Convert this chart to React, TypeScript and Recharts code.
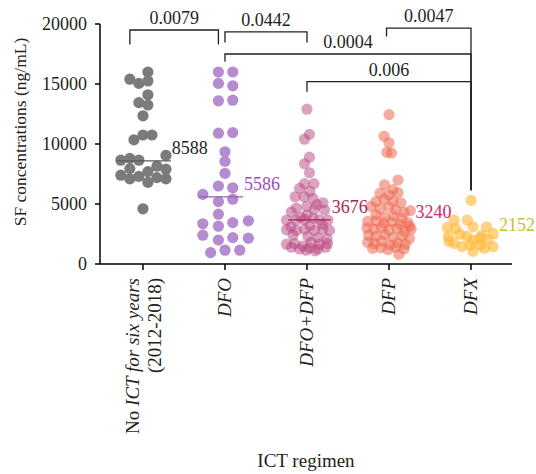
import React from 'react';
import { ScatterChart, Scatter, XAxis, YAxis } from 'recharts';

// ---------- data ----------
const categories = ['No ICT for six years (2012-2018)', 'DFO', 'DFO+DFP', 'DFP', 'DFX'];
const yTicks = [0, 5000, 10000, 15000, 20000];

const noIctValues = [16000, 15400, 15050, 15250, 14100, 13450, 13250, 12350, 10350, 10750, 10750, 9050, 8650, 8800, 8650, 7950, 8150, 7400, 7700, 7900, 7100, 7300, 6800, 7200, 7100, 4600];
const noIctJitter = [0.06, -0.16, -0.05, 0.06, 0.06, -0.05, 0.06, 0, -0.11, 0, 0.11, 0.28, -0.27, -0.16, -0.05, -0.16, 0.17, -0.27, 0.06, 0.28, -0.16, -0.05, 0.06, 0.17, 0.28, 0];

const dfoValues = [16000, 16000, 15050, 14850, 13600, 13650, 10900, 10950, 9350, 8550, 7550, 6500, 6350, 5800, 5200, 5400, 4150, 3350, 3150, 3450, 3600, 2400, 2000, 2200, 2150, 950, 1150, 1150];
const dfoJitter = [-0.08, 0.095, -0.08, 0.095, -0.08, 0.095, -0.08, 0.095, 0, 0, 0, -0.08, 0.095, -0.27, -0.08, 0.095, -0.08, -0.27, -0.08, 0.095, 0.285, -0.27, -0.08, 0.095, 0.285, -0.175, 0, 0.18];

const dfoDfpValues = [12900, 10800, 10400, 8900, 8350, 7600, 6700, 6700, 6300, 6050, 5600, 5600, 5450, 5100, 4950, 4650, 4800, 4550, 4500, 4350, 4100, 3900, 3700, 3650, 3650, 3700, 3800, 3650, 3300, 3100, 3200, 2850, 2800, 2900, 2800, 2900, 2800, 2400, 2300, 2200, 2100, 1650, 1700, 1500, 1800, 1650, 1700, 1400, 1250, 1350, 1250, 1400, 1150, 1100];
const dfoDfpJitter = [0, 0.03, -0.03, 0.03, -0.03, 0.03, -0.03, 0.085, -0.09, 0.035, -0.145, -0.035, 0.075, 0.195, 0.12, -0.13, -0.005, 0.09, 0.215, -0.19, 0, -0.075, 0.15, -0.25, -0.13, -0.03, 0.075, 0.255, 0.185, -0.195, 0.035, -0.25, -0.13, -0.03, 0.09, 0.195, 0.275, -0.17, 0.01, 0.135, 0.245, -0.25, -0.15, -0.05, 0.05, 0.15, 0.25, -0.19, -0.09, 0.03, 0.135, 0.23, -0.01, 0.1];

const dfpValues = [12450, 10650, 10100, 9300, 9250, 7000, 6600, 6200, 5900, 5750, 5950, 5400, 5250, 5100, 5200, 4800, 4600, 4750, 4500, 4300, 4450, 4100, 3900, 4000, 3800, 3550, 3600, 3400, 3500, 3300, 3450, 3150, 3000, 2900, 3050, 2800, 2950, 2700, 2900, 2400, 2300, 2450, 2200, 2350, 2100, 1800, 1700, 1900, 1600, 1750, 1650, 1300, 1350, 1200, 1400, 1250, 800];
const dfpJitter = [0, -0.06, 0, -0.025, 0.03, 0.11, -0.055, 0.05, -0.11, 0, 0.11, -0.06, 0.05, 0.145, -0.16, -0.22, -0.11, 0, 0.085, 0.185, 0.26, -0.16, -0.05, 0.06, 0.16, -0.26, -0.16, -0.06, 0.035, 0.135, 0.23, 0.25, -0.27, -0.18, -0.09, 0, 0.1, 0.19, 0.27, -0.25, -0.16, -0.05, 0.05, 0.16, 0.25, -0.26, -0.18, -0.09, 0.01, 0.11, 0.2, -0.2, -0.1, -0.01, 0.085, 0.185, 0.12];

const dfxValues = [5300, 3650, 3650, 3050, 2950, 3100, 3100, 2550, 2400, 2300, 2300, 2500, 2000, 2150, 2050, 1700, 1450, 1600, 1550, 1450, 1300, 1050, 1900];
const dfxJitter = [0, -0.205, -0.045, -0.29, -0.185, 0.025, 0.19, 0.27, 0.13, -0.05, -0.275, -0.135, 0.025, 0.11, 0.205, -0.205, -0.11, -0.01, 0.11, 0.27, 0.165, 0.025, -0.27];

const groupValues = [noIctValues, dfoValues, dfoDfpValues, dfpValues, dfxValues];
const groupJitter = [noIctJitter, dfoJitter, dfoDfpJitter, dfpJitter, dfxJitter];

const medians = [8588, 5586, 3676, 3240, 2152];
const medianLabels = ['8588', '5586', '3676', '3240', '2152'];

const pLabels = ['0.0079', '0.0442', '0.0004', '0.006', '0.0047'];
const bracketFrom = [0, 1, 1, 2, 3];
const bracketTo = [1, 2, 4, 4, 4];

// ---------- layout / style ----------
const FONT = '"Liberation Serif", "Times New Roman", serif';
const TEXT = '#231f20';
const X_MIN = -0.524;
const pointFill = ['#7b7b7b', '#b48ccf', '#b8467f', '#ee6a50', '#ffb52e'];
const pointOpacity = [1, 1, 0.5, 0.55, 0.6];
const medianStroke = ['#5a5a5a', '#9e5bbf', '#a02656', '#f07a62', '#ffc857'];
const labelFill = [TEXT, '#a04bbe', '#a3285a', '#d6246e', '#c9c21c'];
const medianLeft = [-0.32, -0.32, -0.23, -0.2, -0.34];
const medianRight = [0.34, 0.22, 0.29, 0.31, 0.33];
// bracket geometry: [left x offset, right x offset, top, left leg bottom, right leg bottom]
const bracketGeom = [
  [-0.16, -0.08, 19500, 18300, 18300],
  [0, 0, 19350, 18450, 18450],
  [0, 0, 17500, 16850, 6150],
  [0, 0, 15200, 14350, 6150],
  [-0.03, 0, 19650, 18950, 6150],
];

const Hidden = () => <g />;

const XTick = (props: any) => {
  const { x, y, payload } = props;
  const i = payload.value as number;
  const common = { fontFamily: FONT, fontSize: 19, fill: TEXT };
  const t = `translate(${x},${y + 6}) rotate(-90)`;
  if (i === 0) {
    return (
      <text transform={t} textAnchor="end" {...common}>
        <tspan x={0} y={-3.5}>No </tspan>
        <tspan fontStyle="italic">ICT for six years</tspan>
        <tspan x={0} y={18.5}>(2012-2018)</tspan>
      </text>
    );
  }
  return (
    <text transform={t} textAnchor="end" {...common} fontStyle="italic">
      <tspan x={0} y={6.5}>{categories[i]}</tspan>
    </text>
  );
};

const YTitle = (props: any) => {
  const vb = props.viewBox || { x: 0, y: 0, width: 100, height: 264 };
  const cx = vb.x + 20;
  const cy = vb.y + vb.height / 2;
  return (
    <text x={cx} y={cy} transform={`rotate(-90, ${cx}, ${cy})`} textAnchor="middle" dominantBaseline="central" fontFamily={FONT} fontSize={17.5} fill={TEXT}>
      SF concentrations (ng/mL)
    </text>
  );
};

const XTitle = (props: any) => {
  const vb = props.viewBox || { x: 100, y: 264, width: 412, height: 210 };
  return (
    <text x={vb.x + vb.width / 2} y={vb.y + vb.height - 7} textAnchor="middle" fontFamily={FONT} fontSize={19} fill={TEXT}>
      ICT regimen
    </text>
  );
};

export default function App() {
  const pointSeries = groupValues.map((vals, g) =>
    vals.map((v, k) => ({ x: g + groupJitter[g][k], y: v }))
  );
  const medianSeries = medians.map((m, g) => [
    { x: g + medianLeft[g], y: m },
    { x: g + medianRight[g], y: m },
  ]);
  const medianText = medians.map((m, g) => ({ x: g + medianRight[g], y: m, text: medianLabels[g], color: labelFill[g] }));
  const bracketSeries = pLabels.map((_, b) => {
    const [lo, ro, top, lb, rb] = bracketGeom[b];
    const x1 = bracketFrom[b] + lo;
    const x2 = bracketTo[b] + ro;
    return [
      { x: x1, y: lb },
      { x: x1, y: top },
      { x: x2, y: top },
      { x: x2, y: rb },
    ];
  });
  const bracketText = pLabels.map((p, b) => {
    const [lo, ro, top] = bracketGeom[b];
    return { x: (bracketFrom[b] + lo + bracketTo[b] + ro) / 2, y: top, text: p };
  });

  return (
    <div style={{ position: 'absolute', left: 0, top: 0 }}>
      <ScatterChart width={536} height={474} margin={{ top: 0, right: 24, bottom: 0, left: 0 }}>
        <XAxis
          type="number"
          dataKey="x"
          domain={[X_MIN, 4.5]}
          ticks={[0, 1, 2, 3, 4]}
          height={210}
          axisLine={{ stroke: '#000', strokeWidth: 1.5 }}
          tickLine={{ stroke: '#000', strokeWidth: 1.5 }}
          tickSize={6}
          tick={<XTick />}
          interval={0}
          label={<XTitle />}
        />
        <YAxis
          type="number"
          dataKey="y"
          domain={[0, 22000]}
          ticks={yTicks}
          width={100}
          axisLine={false}
          tickLine={{ stroke: '#000', strokeWidth: 1.5 }}
          tickSize={5}
          tickMargin={8}
          tick={{ fontFamily: FONT, fontSize: 18, fill: TEXT }}
          label={<YTitle />}
        />
        <Scatter
          data={[{ x: X_MIN, y: 0 }, { x: X_MIN, y: 20000 }]}
          line={{ stroke: '#000', strokeWidth: 1.5 }}
          lineType="joint"
          shape={Hidden}
          isAnimationActive={false}
        />
        {pointSeries.map((pts, g) => (
          <Scatter
            key={`pts${g}`}
            data={pts}
            isAnimationActive={false}
            shape={(p: any) => (
              <circle cx={p.cx} cy={p.cy} r={5.6} fill={pointFill[g]} fillOpacity={pointOpacity[g]} />
            )}
          />
        ))}
        {medianSeries.map((pts, g) => (
          <Scatter
            key={`med${g}`}
            data={pts}
            line={{ stroke: medianStroke[g], strokeWidth: 1.2 }}
            lineType="joint"
            shape={Hidden}
            isAnimationActive={false}
          />
        ))}
        <Scatter
          data={medianText}
          isAnimationActive={false}
          shape={(p: any) => (
            <text x={p.cx + 1} y={p.cy - 7} fontFamily={FONT} fontSize={18} fill={p.payload.color}>
              {p.payload.text}
            </text>
          )}
        />
        {bracketSeries.map((pts, b) => (
          <Scatter
            key={`br${b}`}
            data={pts}
            line={{ stroke: '#231f20', strokeWidth: 1.3 }}
            lineType="joint"
            shape={Hidden}
            isAnimationActive={false}
          />
        ))}
        <Scatter
          data={bracketText}
          isAnimationActive={false}
          shape={(p: any) => (
            <text x={p.cx} y={p.cy - 6} textAnchor="middle" fontFamily={FONT} fontSize={18} fill={TEXT}>
              {p.payload.text}
            </text>
          )}
        />
      </ScatterChart>
    </div>
  );
}
